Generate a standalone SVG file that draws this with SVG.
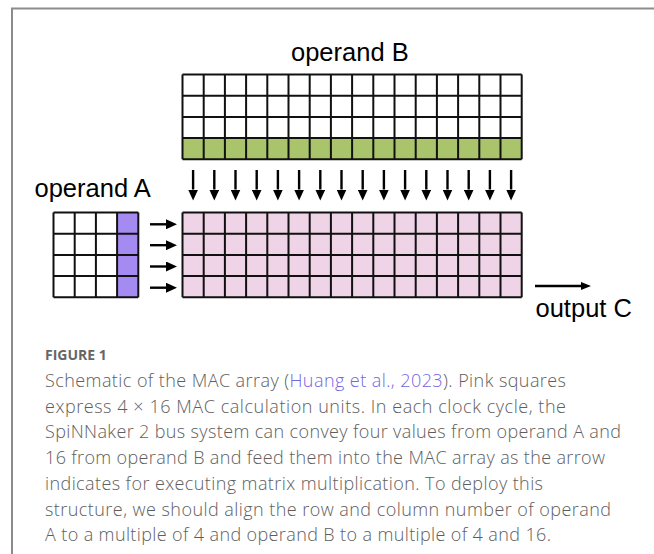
<svg xmlns="http://www.w3.org/2000/svg" width="654" height="554" viewBox="0 0 654 554">
<style>
.lbl{font-family:"Liberation Sans",Arial,sans-serif;font-size:25.5px;fill:#000}
.grid{fill:none;stroke:#111;stroke-width:2}
.arr{stroke:#000;stroke-width:2.4;fill:none}
.cap{font-family:"Open Sans","Liberation Sans",sans-serif;font-size:18px;font-weight:300;fill:#5e5e5e}
.fig{font-family:"Open Sans","Liberation Sans",sans-serif;font-size:14px;font-weight:bold;fill:#666}
.link{fill:#7366e3}
</style>
<defs>
<marker id="hd" markerUnits="userSpaceOnUse" markerWidth="11" markerHeight="10" refX="0" refY="5" orient="auto">
<path d="M0,0 L11,5 L0,10 Z" fill="#000"/>
</marker>
<marker id="hs" markerUnits="userSpaceOnUse" markerWidth="10" markerHeight="8" refX="0" refY="4" orient="auto">
<path d="M0,0 L10,4 L0,8 Z" fill="#000"/>
</marker>
</defs>
<rect width="654" height="554" fill="#fff"/>
<path d="M12,554 V8.5 H654" fill="none" stroke="#8c8c8c" stroke-width="2"/>

<g id="operandB">
<text class="lbl" x="291" y="61">operand B</text>
<rect x="182.5" y="74.5" width="339.2" height="63.6" fill="#fff"/>
<rect x="182.5" y="138.1" width="339.2" height="21.2" fill="#a9c46b"/>
<path class="grid" d="M182.5,74.5H521.7M182.5,95.7H521.7M182.5,116.9H521.7M182.5,138.1H521.7M182.5,159.3H521.7
M182.5,74.5V159.3M203.7,74.5V159.3M224.9,74.5V159.3M246.1,74.5V159.3M267.3,74.5V159.3M288.5,74.5V159.3M309.7,74.5V159.3M330.9,74.5V159.3M352.1,74.5V159.3M373.3,74.5V159.3M394.5,74.5V159.3M415.7,74.5V159.3M436.9,74.5V159.3M458.1,74.5V159.3M479.3,74.5V159.3M500.5,74.5V159.3M521.7,74.5V159.3"/>
</g>

<g id="operandA">
<text class="lbl" x="34.5" y="197">operand A</text>
<rect x="53.5" y="212.5" width="63.6" height="84.8" fill="#fff"/>
<rect x="117.1" y="212.5" width="21.2" height="84.8" fill="#a58af2"/>
<path class="grid" d="M53.5,212.5H138.3M53.5,233.7H138.3M53.5,254.9H138.3M53.5,276.1H138.3M53.5,297.3H138.3
M53.5,212.5V297.3M74.7,212.5V297.3M95.9,212.5V297.3M117.1,212.5V297.3M138.3,212.5V297.3"/>
</g>

<g id="macArray">
<rect x="182.5" y="212.5" width="339.2" height="84.8" fill="#efd3e6"/>
<path class="grid" d="M182.5,212.5H521.7M182.5,233.7H521.7M182.5,254.9H521.7M182.5,276.1H521.7M182.5,297.3H521.7
M182.5,212.5V297.3M203.7,212.5V297.3M224.9,212.5V297.3M246.1,212.5V297.3M267.3,212.5V297.3M288.5,212.5V297.3M309.7,212.5V297.3M330.9,212.5V297.3M352.1,212.5V297.3M373.3,212.5V297.3M394.5,212.5V297.3M415.7,212.5V297.3M436.9,212.5V297.3M458.1,212.5V297.3M479.3,212.5V297.3M500.5,212.5V297.3M521.7,212.5V297.3"/>
</g>

<g id="outputC">
<text class="lbl" x="535.5" y="317">output C</text>
</g>

<g id="connectors">
<g class="arr" marker-end="url(#hd)">
<path d="M193.1,170V189.5"/><path d="M214.3,170V189.5"/><path d="M235.5,170V189.5"/><path d="M256.7,170V189.5"/>
<path d="M277.9,170V189.5"/><path d="M299.1,170V189.5"/><path d="M320.3,170V189.5"/><path d="M341.5,170V189.5"/>
<path d="M362.7,170V189.5"/><path d="M383.9,170V189.5"/><path d="M405.1,170V189.5"/><path d="M426.3,170V189.5"/>
<path d="M447.5,170V189.5"/><path d="M468.7,170V189.5"/><path d="M489.9,170V189.5"/><path d="M511.1,170V189.5"/>
<path d="M150,224.3H166"/><path d="M150,245.2H166"/><path d="M150,266.5H166"/><path d="M150,287.7H166"/>
</g>
<path class="arr" d="M535,286H581" marker-end="url(#hs)"/>
</g>

<g id="caption">
<text class="fig" x="45" y="360">FIGURE 1</text>
<text class="cap" x="45" y="387" textLength="521">Schematic of the MAC array (<tspan class="link">Huang et al., 2023</tspan>). Pink squares</text>
<text class="cap" x="45" y="412.7" textLength="521">express 4 × 16 MAC calculation units. In each clock cycle, the</text>
<text class="cap" x="45" y="438.4" textLength="576">SpiNNaker 2 bus system can convey four values from operand A and</text>
<text class="cap" x="45" y="464.1" textLength="560">16 from operand B and feed them into the MAC array as the arrow</text>
<text class="cap" x="45" y="489.8" textLength="498">indicates for executing matrix multiplication. To deploy this</text>
<text class="cap" x="45" y="515.5" textLength="566">structure, we should align the row and column number of operand</text>
<text class="cap" x="45" y="541.2" textLength="506">A to a multiple of 4 and operand B to a multiple of 4 and 16.</text>
</g>
</svg>
